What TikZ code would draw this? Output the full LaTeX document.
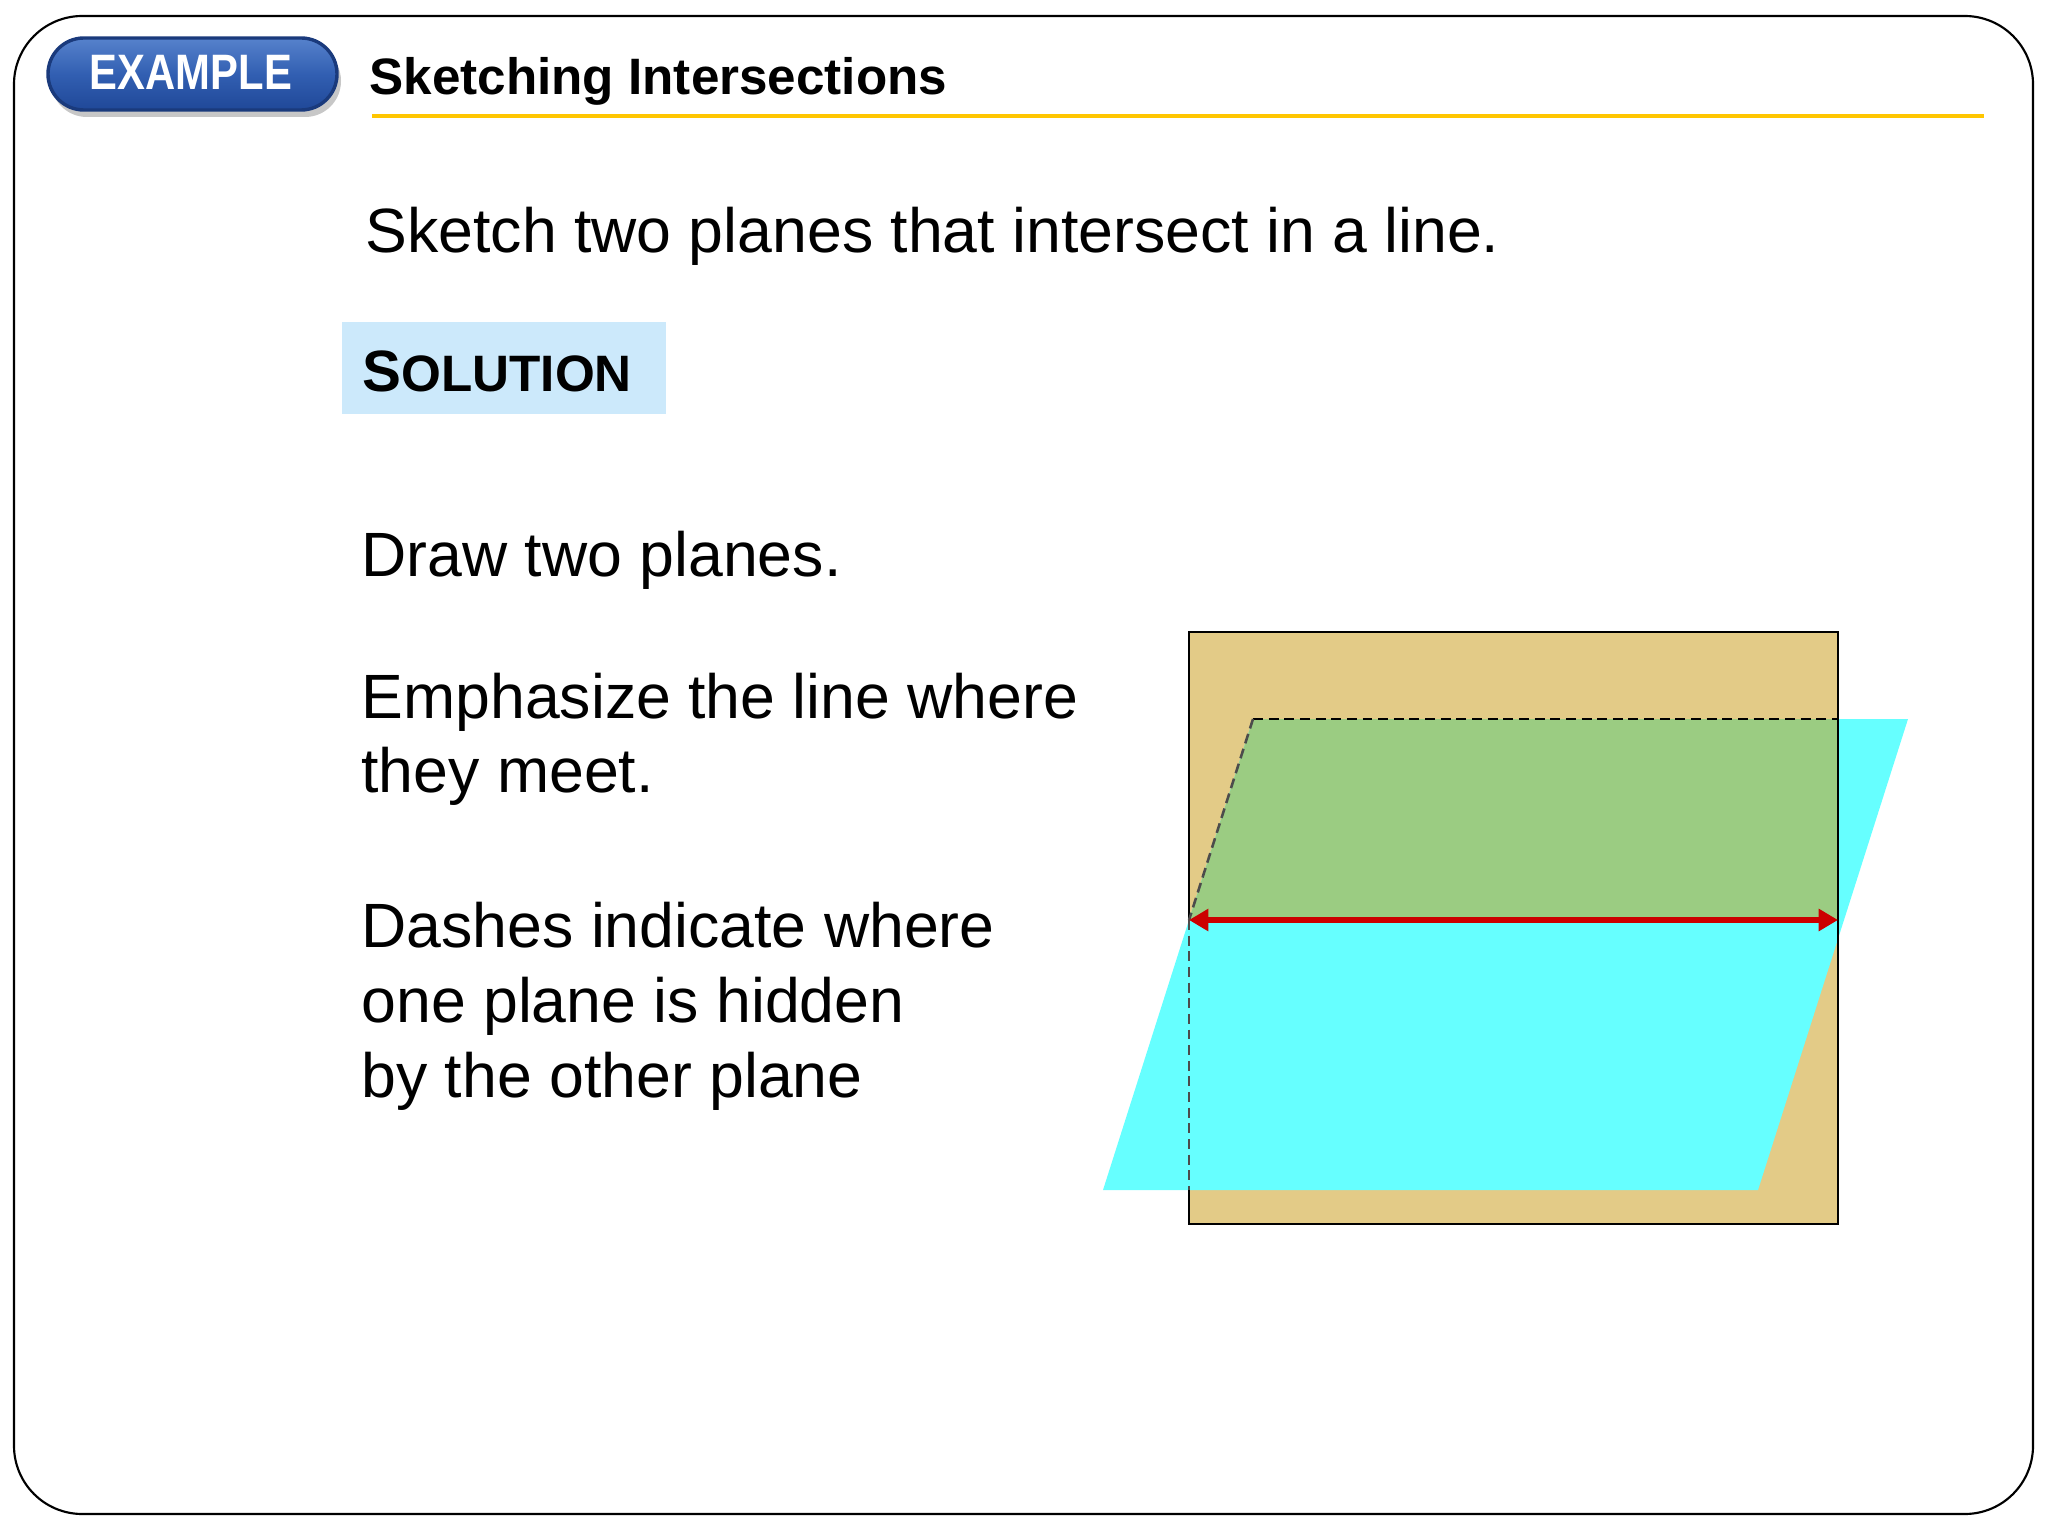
\documentclass[tikz,border=0pt]{standalone}
\usepackage{fontspec}
\setmainfont{Liberation Sans}
\usetikzlibrary{arrows.meta}

\definecolor{tanPlane}{RGB}{227,203,135}
\definecolor{cyanPlane}{RGB}{102,255,255}
\definecolor{greenPart}{RGB}{155,204,130}
\definecolor{lineRed}{RGB}{204,0,0}
\definecolor{rulerGold}{RGB}{255,198,0}
\definecolor{solBlue}{RGB}{204,233,251}
\definecolor{badgeTop}{RGB}{86,130,204}
\definecolor{badgeMid}{RGB}{50,95,178}
\definecolor{badgeBot}{RGB}{32,72,152}
\definecolor{badgeEdge}{RGB}{26,58,124}

\tikzset{
  bodytext/.style={anchor=base west,inner sep=0pt,font=\fontsize{22}{26}\selectfont},
  hiddenline/.style={dash pattern=on 3.5pt off 2pt,line width=0.9pt},
}

\begin{document}
\begin{tikzpicture}[x=0.3515625pt,y=0.3515625pt,yscale=-1,xscale=1]
\useasboundingbox (0,0) rectangle (2048,1536);

%Rounded Rect [id:frame]
\draw[line width=0.75pt,rounded corners=24pt] (14,16) rectangle (2033,1514);

%Rounded Rect [id:badge shadow]
\fill[black!22,rounded corners=12.6pt] (51,45) rectangle (341,117);
%Rounded Rect [id:badge]
\shade[top color=badgeTop,bottom color=badgeBot,middle color=badgeMid,rounded corners=12.6pt] (48,38) rectangle (337,110);
\draw[badgeEdge,line width=1.2pt,rounded corners=12.6pt] (48,38) rectangle (337,110);
% Text Node
\draw (191,90) node (badge) [anchor=base][inner sep=0pt] {\color{white}\scalebox{0.84}[1]{\fontsize{17.5}{20}\selectfont\bfseries EXAMPLE}};

% Text Node
\draw (369,95) node (title) [anchor=base west][inner sep=0pt] {\fontsize{18}{22}\selectfont\bfseries Sketching Intersections};
%Straight Lines [id:title rule]
\coordinate (ruleL) at (372,116);
\coordinate (ruleR) at (1984,116);
\draw[rulerGold,line width=1.4pt] (ruleL) -- (ruleR);

% Text Node
\draw (365,253) node (task) [bodytext] {Sketch two planes that intersect in a line.};

%Shape: Rectangle [id:solution box]
\fill[solBlue] (342,322) rectangle (666,414);
% Text Node
\draw (362,392) node (solution) [anchor=base west][inner sep=0pt] {\bfseries{\fontsize{20.5}{24}\selectfont S}{\fontsize{18}{22}\selectfont OLUTION}};

% Text Node
\draw (361,577) node (step1) [bodytext] {Draw two planes.};
% Text Node
\draw (361,718) node (step2a) [bodytext] {Emphasize the line where};
\draw (361,792) node (step2b) [bodytext] {they meet.};
% Text Node
\draw (361,947) node (step3a) [bodytext] {Dashes indicate where};
\draw (361,1022) node (step3b) [bodytext] {one plane is hidden};
\draw (361,1097) node (step3c) [bodytext] {by the other plane};

% corners of the two planes
\coordinate (rTL) at (1189,632);
\coordinate (rTR) at (1838,632);
\coordinate (rBR) at (1838,1224);
\coordinate (rBL) at (1189,1224);
\coordinate (pA) at (1253,719);
\coordinate (pB) at (1908,719);
\coordinate (pC) at (1758,1190);
\coordinate (pD) at (1103,1190);
\coordinate (meetL) at (1189,920);
\coordinate (meetR) at (1838,920);
\coordinate (topR) at (1838,719);
\coordinate (edgeL) at (1189,1190);

%Shape: Rectangle [id:vertical plane]
\fill[tanPlane] (rTL) rectangle (rBR);
%Shape: Parallelogram [id:tilted plane]
\fill[cyanPlane] (pA) -- (pB) -- (pC) -- (pD) -- cycle;
%Shape: Polygon [id:overlap]
\fill[greenPart] (pA) -- (topR) -- (meetR) -- (meetL) -- cycle;

%Straight Lines [id:visible edges]
\draw[line width=0.75pt] (meetL) -- (rTL) -- (rTR) -- (rBR) -- (rBL) -- (edgeL);
%Straight Lines [id:hidden edges]
\draw[hiddenline] (pA) -- (topR);
\draw[hiddenline,black!70] (pA) -- (meetL);
\draw[hiddenline,black!70] (meetL) -- (edgeL);

%Straight Lines [id:intersection line]
\draw[lineRed,line width=2.1pt,{Triangle[length=6.8pt,width=7.5pt]}-{Triangle[length=6.8pt,width=7.5pt]}] (meetL) -- (meetR);

\end{tikzpicture}
\end{document}
